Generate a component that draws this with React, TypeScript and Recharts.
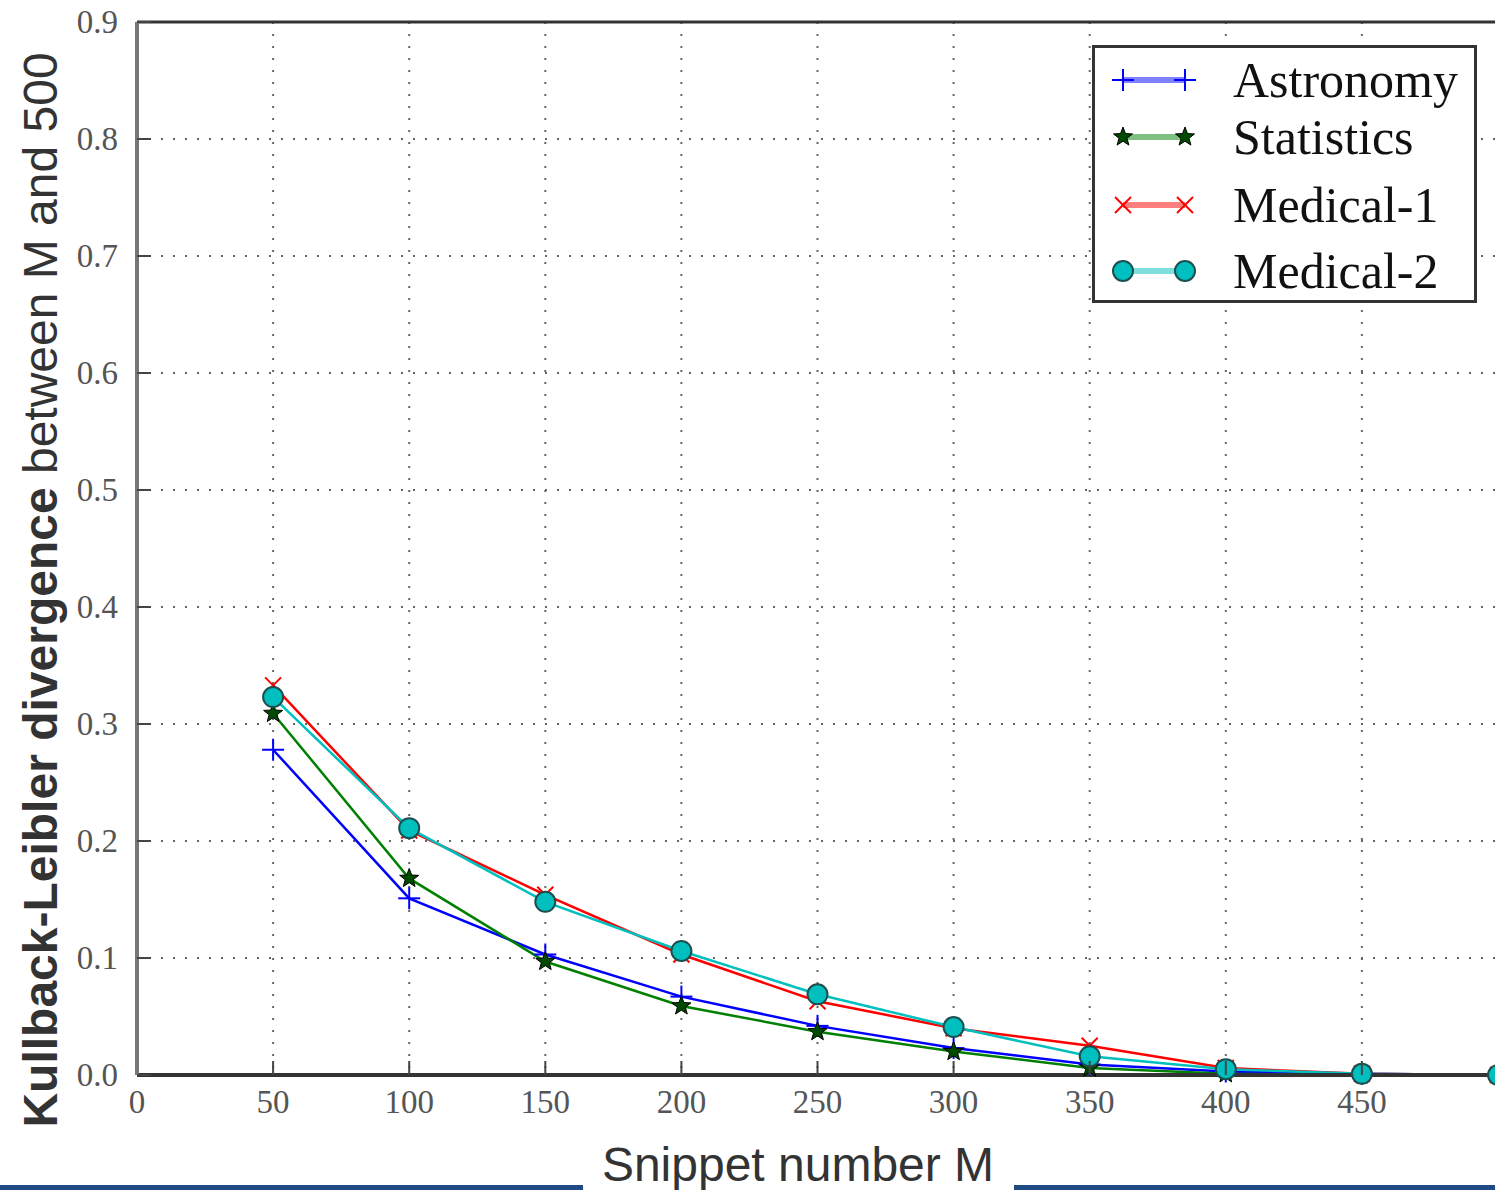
import * as React from 'react'
import { LineChart, Line, XAxis, YAxis, CartesianGrid, Legend, ReferenceLine } from 'recharts'

const snippetM = [50, 100, 150, 200, 250, 300, 350, 400, 450, 500]
const astronomy = [0.278, 0.151, 0.103, 0.067, 0.042, 0.023, 0.009, 0.003, 0.001, 0.0]
const statistics = [0.309, 0.168, 0.097, 0.059, 0.037, 0.02, 0.006, 0.001, 0.0, 0.0]
const medical1 = [0.333, 0.209, 0.154, 0.103, 0.063, 0.04, 0.025, 0.006, 0.001, 0.0]
const medical2 = [0.323, 0.211, 0.148, 0.106, 0.069, 0.041, 0.016, 0.005, 0.001, 0.0]

const xTicks = [0, 50, 100, 150, 200, 250, 300, 350, 400, 450]
const yTicks = [0, 0.1, 0.2, 0.3, 0.4, 0.5, 0.6, 0.7, 0.8, 0.9]

const data = snippetM.map((m, i) => ({
  m,
  astronomy: astronomy[i],
  statistics: statistics[i],
  medical1: medical1[i],
  medical2: medical2[i],
}))

type MarkerKind = 'plus' | 'star' | 'x' | 'circle'

const SERIES: { key: string; name: string; color: string; marker: MarkerKind }[] = [
  { key: 'astronomy', name: 'Astronomy', color: '#0000ff', marker: 'plus' },
  { key: 'statistics', name: 'Statistics', color: '#008000', marker: 'star' },
  { key: 'medical1', name: 'Medical-1', color: '#ff0000', marker: 'x' },
  { key: 'medical2', name: 'Medical-2', color: '#00bfbf', marker: 'circle' },
]

const tickFont = '"Liberation Serif", "DejaVu Serif", serif'
const sansFont = '"Liberation Sans", Arial, sans-serif'

function starPoints(cx: number, cy: number, r: number) {
  const pts: string[] = []
  for (let i = 0; i < 10; i++) {
    const rad = i % 2 === 0 ? r : r * 0.42
    const a = -Math.PI / 2 + (i * Math.PI) / 5
    pts.push(`${cx + rad * Math.cos(a)},${cy + rad * Math.sin(a)}`)
  }
  return pts.join(' ')
}

function Marker({ kind, cx, cy, color }: { kind: MarkerKind; cx: number; cy: number; color: string }) {
  if (kind === 'plus') {
    return (
      <g stroke={color} strokeWidth={2}>
        <line x1={cx - 11} y1={cy} x2={cx + 11} y2={cy} />
        <line x1={cx} y1={cy - 11} x2={cx} y2={cy + 11} />
      </g>
    )
  }
  if (kind === 'x') {
    return (
      <g stroke={color} strokeWidth={2}>
        <line x1={cx - 8} y1={cy - 8} x2={cx + 8} y2={cy + 8} />
        <line x1={cx - 8} y1={cy + 8} x2={cx + 8} y2={cy - 8} />
      </g>
    )
  }
  if (kind === 'star') {
    return <polygon points={starPoints(cx, cy, 10)} fill="#004a00" stroke="#000" strokeWidth={1} />
  }
  return <circle cx={cx} cy={cy} r={10} fill="#00bfbf" stroke="#1d4f4f" strokeWidth={2} />
}

function makeDot(kind: MarkerKind, color: string) {
  return (props: any) => {
    const { cx, cy, index } = props
    if (cx == null || cy == null) return <g key={`d-${kind}-${index}`} />
    return (
      <g key={`d-${kind}-${index}`}>
        <Marker kind={kind} cx={cx} cy={cy} color={color} />
      </g>
    )
  }
}

const legendRowsY = [35, 92, 160, 226]

function ChartLegend() {
  return (
    <div style={{ width: 385, height: 258, border: '3px solid #333', background: '#fff', boxSizing: 'border-box' }}>
      <svg width={379} height={252} style={{ display: 'block' }}>
        {SERIES.map((s, i) => {
          const y = legendRowsY[i] - 3
          return (
            <g key={s.key}>
              <line x1={28} y1={y} x2={90} y2={y} stroke={s.color} strokeWidth={6} strokeOpacity={0.5} />
              <Marker kind={s.marker} cx={28} cy={y} color={s.color} />
              <Marker kind={s.marker} cx={90} cy={y} color={s.color} />
              <text x={138} y={y} dominantBaseline="central" fontFamily={tickFont} fontSize={50} fill="#111">
                {s.name}
              </text>
            </g>
          )
        })}
      </svg>
    </div>
  )
}

function XTick(props: any) {
  const { x, y, payload } = props
  return (
    <g>
      {payload.value !== 0 && <line x1={x} y1={y} x2={x} y2={y - 14} stroke="#444" strokeWidth={2} />}
      <text x={x} y={y + 38} textAnchor="middle" fontFamily={tickFont} fontSize={33} fill="#555">
        {payload.value}
      </text>
    </g>
  )
}

function YTick(props: any) {
  const { x, y, payload } = props
  return (
    <g>
      <line x1={x} y1={y} x2={x + 14} y2={y} stroke="#444" strokeWidth={2} />
      <text x={x - 19} y={y} textAnchor="end" dominantBaseline="central" fontFamily={tickFont} fontSize={33} fill="#555">
        {Number(payload.value).toFixed(1)}
      </text>
    </g>
  )
}

function YLabel() {
  return (
    <text
      x={0}
      y={0}
      transform="translate(57, 590) rotate(-90)"
      textAnchor="middle"
      fontFamily={sansFont}
      fontSize={48}
      fill="#333"
    >
      <tspan fontWeight="bold">Kullback-Leibler divergence</tspan>
      <tspan> between M and 500</tspan>
    </text>
  )
}

function XLabel() {
  return (
    <text x={798} y={1181} textAnchor="middle" fontFamily={sansFont} fontSize={48} fill="#333">
      Snippet number M
    </text>
  )
}

export default function App() {
  return (
    <div style={{ position: 'absolute', left: 0, top: 0, width: 1495, height: 1190, overflow: 'hidden', background: '#fff' }}>
      <LineChart width={1520} height={1190} data={data} margin={{ top: 22, right: 22, left: 0, bottom: 0 }}>
        <CartesianGrid stroke="#666" strokeWidth={2} strokeDasharray="2 10" />
        <XAxis
          dataKey="m"
          type="number"
          domain={[0, 500]}
          ticks={xTicks}
          height={115}
          tickSize={0}
          tickMargin={0}
          tick={<XTick />}
          axisLine={{ stroke: '#333', strokeWidth: 4 }}
          tickLine={false}
          label={{ content: () => <XLabel /> }}
        />
        <YAxis
          type="number"
          domain={[0, 0.9]}
          ticks={yTicks}
          width={137}
          tickSize={0}
          tickMargin={0}
          tick={<YTick />}
          axisLine={{ stroke: '#777', strokeWidth: 4 }}
          tickLine={false}
          label={{ content: () => <YLabel /> }}
        />
        <ReferenceLine y={0.9} stroke="#333" strokeWidth={3} />
        <Legend
          layout="vertical"
          align="center"
          verticalAlign="middle"
          content={() => <ChartLegend />}
          wrapperStyle={{ left: 1092, top: 45, width: 385, height: 258 }}
        />
        {SERIES.map((s) => (
          <Line
            key={s.key}
            type="linear"
            dataKey={s.key}
            name={s.name}
            stroke={s.color}
            strokeWidth={2.5}
            dot={makeDot(s.marker, s.color)}
            activeDot={false}
            isAnimationActive={false}
          />
        ))}
      </LineChart>
      <div style={{ position: 'absolute', left: 0, top: 1185, width: 583, height: 5, background: '#1f4a84' }} />
      <div style={{ position: 'absolute', left: 1014, top: 1185, width: 481, height: 5, background: '#1f4a84' }} />
    </div>
  )
}
